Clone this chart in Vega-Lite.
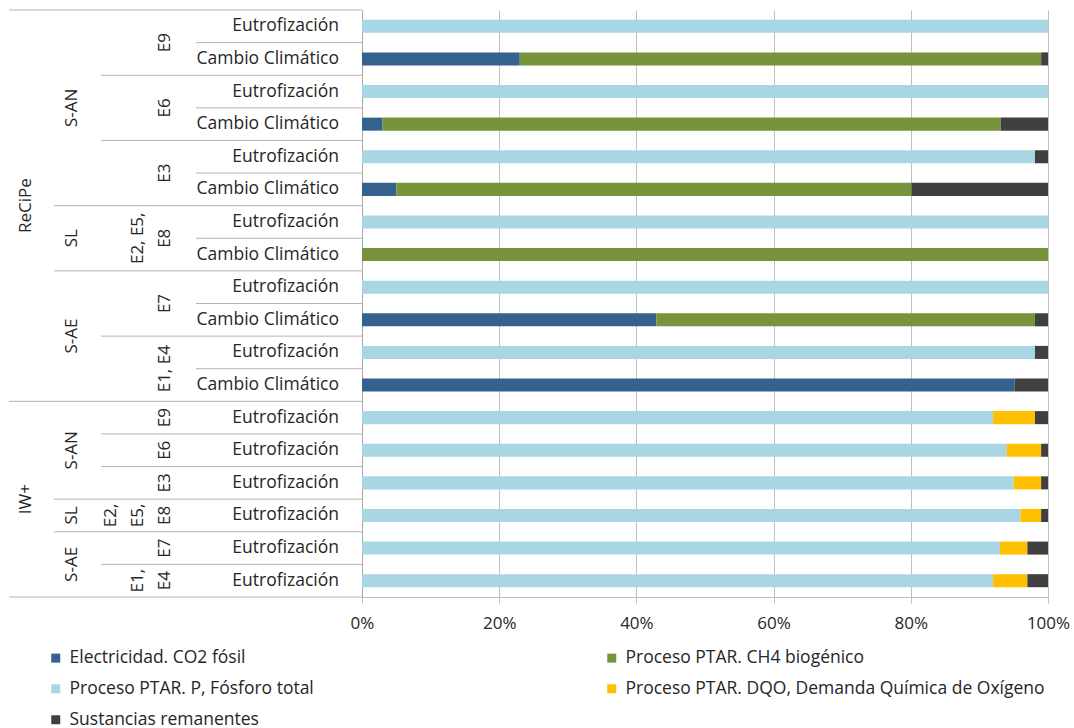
{
  "$schema": "https://vega.github.io/schema/vega-lite/v6.json",
  "background": "white",
  "padding": {"left": 8, "top": 9, "right": 0, "bottom": 0},
  "bounds": "flush",
  "spacing": 0,
  "config": {
    "view": {"stroke": null},
    "font": "Open Sans",
    "text": {"font": "Open Sans", "fontSize": 16, "color": "#262626"},
    "rule": {"color": "#B4B4B4", "strokeWidth": 1}
  },
  "datasets": {
    "rows": [
      {"idx": 1, "method": "ReCiPe", "system": "S-AN", "scen": "E9", "cat": "Eutrofización"},
      {"idx": 2, "method": "ReCiPe", "system": "S-AN", "scen": "E9", "cat": "Cambio Climático"},
      {"idx": 3, "method": "ReCiPe", "system": "S-AN", "scen": "E6", "cat": "Eutrofización"},
      {"idx": 4, "method": "ReCiPe", "system": "S-AN", "scen": "E6", "cat": "Cambio Climático"},
      {"idx": 5, "method": "ReCiPe", "system": "S-AN", "scen": "E3", "cat": "Eutrofización"},
      {"idx": 6, "method": "ReCiPe", "system": "S-AN", "scen": "E3", "cat": "Cambio Climático"},
      {"idx": 7, "method": "ReCiPe", "system": "SL", "scen": "E2, E5,\nE8", "cat": "Eutrofización"},
      {"idx": 8, "method": "ReCiPe", "system": "SL", "scen": "E2, E5,\nE8", "cat": "Cambio Climático"},
      {"idx": 9, "method": "ReCiPe", "system": "S-AE", "scen": "E7", "cat": "Eutrofización"},
      {"idx": 10, "method": "ReCiPe", "system": "S-AE", "scen": "E7", "cat": "Cambio Climático"},
      {"idx": 11, "method": "ReCiPe", "system": "S-AE", "scen": "E1, E4", "cat": "Eutrofización"},
      {"idx": 12, "method": "ReCiPe", "system": "S-AE", "scen": "E1, E4", "cat": "Cambio Climático"},
      {"idx": 13, "method": "IW+", "system": "S-AN", "scen": "E9", "cat": "Eutrofización"},
      {"idx": 14, "method": "IW+", "system": "S-AN", "scen": "E6", "cat": "Eutrofización"},
      {"idx": 15, "method": "IW+", "system": "S-AN", "scen": "E3", "cat": "Eutrofización"},
      {"idx": 16, "method": "IW+", "system": "SL", "scen": "E2,\nE5,\nE8", "cat": "Eutrofización"},
      {"idx": 17, "method": "IW+", "system": "S-AE", "scen": "E7", "cat": "Eutrofización"},
      {"idx": 18, "method": "IW+", "system": "S-AE", "scen": "E1,\nE4", "cat": "Eutrofización"}
    ],
    "bars": [
      {"idx": 1, "serie": "Proceso PTAR. P, Fósforo  total", "s": 3, "value": 100},
      {"idx": 2, "serie": "Electricidad. CO2 fósil", "s": 1, "value": 23},
      {"idx": 2, "serie": "Proceso PTAR. CH4 biogénico", "s": 2, "value": 76},
      {"idx": 2, "serie": "Sustancias remanentes", "s": 5, "value": 1},
      {"idx": 3, "serie": "Proceso PTAR. P, Fósforo  total", "s": 3, "value": 100},
      {"idx": 4, "serie": "Electricidad. CO2 fósil", "s": 1, "value": 3},
      {"idx": 4, "serie": "Proceso PTAR. CH4 biogénico", "s": 2, "value": 90.1},
      {"idx": 4, "serie": "Sustancias remanentes", "s": 5, "value": 6.9},
      {"idx": 5, "serie": "Proceso PTAR. P, Fósforo  total", "s": 3, "value": 98.1},
      {"idx": 5, "serie": "Sustancias remanentes", "s": 5, "value": 1.9},
      {"idx": 6, "serie": "Electricidad. CO2 fósil", "s": 1, "value": 5},
      {"idx": 6, "serie": "Proceso PTAR. CH4 biogénico", "s": 2, "value": 75.1},
      {"idx": 6, "serie": "Sustancias remanentes", "s": 5, "value": 19.9},
      {"idx": 7, "serie": "Proceso PTAR. P, Fósforo  total", "s": 3, "value": 100},
      {"idx": 8, "serie": "Proceso PTAR. CH4 biogénico", "s": 2, "value": 100},
      {"idx": 9, "serie": "Proceso PTAR. P, Fósforo  total", "s": 3, "value": 100},
      {"idx": 10, "serie": "Electricidad. CO2 fósil", "s": 1, "value": 42.9},
      {"idx": 10, "serie": "Proceso PTAR. CH4 biogénico", "s": 2, "value": 55.2},
      {"idx": 10, "serie": "Sustancias remanentes", "s": 5, "value": 1.9},
      {"idx": 11, "serie": "Proceso PTAR. P, Fósforo  total", "s": 3, "value": 98.1},
      {"idx": 11, "serie": "Sustancias remanentes", "s": 5, "value": 1.9},
      {"idx": 12, "serie": "Electricidad. CO2 fósil", "s": 1, "value": 95.1},
      {"idx": 12, "serie": "Sustancias remanentes", "s": 5, "value": 4.9},
      {"idx": 13, "serie": "Proceso PTAR. P, Fósforo  total", "s": 3, "value": 92},
      {"idx": 13, "serie": "Proceso PTAR. DQO, Demanda Química de Oxígeno", "s": 4, "value": 6.1},
      {"idx": 13, "serie": "Sustancias remanentes", "s": 5, "value": 1.9},
      {"idx": 14, "serie": "Proceso PTAR. P, Fósforo  total", "s": 3, "value": 94},
      {"idx": 14, "serie": "Proceso PTAR. DQO, Demanda Química de Oxígeno", "s": 4, "value": 5},
      {"idx": 14, "serie": "Sustancias remanentes", "s": 5, "value": 1},
      {"idx": 15, "serie": "Proceso PTAR. P, Fósforo  total", "s": 3, "value": 95},
      {"idx": 15, "serie": "Proceso PTAR. DQO, Demanda Química de Oxígeno", "s": 4, "value": 4},
      {"idx": 15, "serie": "Sustancias remanentes", "s": 5, "value": 1},
      {"idx": 16, "serie": "Proceso PTAR. P, Fósforo  total", "s": 3, "value": 96},
      {"idx": 16, "serie": "Proceso PTAR. DQO, Demanda Química de Oxígeno", "s": 4, "value": 3},
      {"idx": 16, "serie": "Sustancias remanentes", "s": 5, "value": 1},
      {"idx": 17, "serie": "Proceso PTAR. P, Fósforo  total", "s": 3, "value": 93},
      {"idx": 17, "serie": "Proceso PTAR. DQO, Demanda Química de Oxígeno", "s": 4, "value": 4},
      {"idx": 17, "serie": "Sustancias remanentes", "s": 5, "value": 3},
      {"idx": 18, "serie": "Proceso PTAR. P, Fósforo  total", "s": 3, "value": 92},
      {"idx": 18, "serie": "Proceso PTAR. DQO, Demanda Química de Oxígeno", "s": 4, "value": 5},
      {"idx": 18, "serie": "Sustancias remanentes", "s": 5, "value": 3}
    ]
  },
  "hconcat": [
    {
      "width": 45, "height": 587,
      "data": {"name": "rows"},
      "layer": [
        {
          "transform": [{"aggregate": [{"op": "max", "field": "idx", "as": "e"}], "groupby": ["method"]}],
          "mark": "rule",
          "encoding": {"y": {"field": "e", "type": "ordinal", "bandPosition": 1, "scale": {"type": "band", "domain": [1,2,3,4,5,6,7,8,9,10,11,12,13,14,15,16,17,18], "paddingInner": 0, "paddingOuter": 0}, "axis": null}}
        },
        {
          "transform": [{"aggregate": [{"op": "min", "field": "idx", "as": "e"}]}],
          "mark": "rule",
          "encoding": {"y": {"field": "e", "type": "ordinal", "bandPosition": 0, "scale": {"type": "band", "domain": [1,2,3,4,5,6,7,8,9,10,11,12,13,14,15,16,17,18], "paddingInner": 0, "paddingOuter": 0}, "axis": null}}
        },
        {
          "transform": [{"aggregate": [{"op": "mean", "field": "idx", "as": "m"}], "groupby": ["method"]}],
          "mark": {"type": "text", "angle": 270, "baseline": "middle", "align": "center", "dy": -6, "fontSize": 17},
          "encoding": {
            "y": {"field": "m", "type": "quantitative", "scale": {"domain": [0.5, 18.5], "reverse": true, "nice": false, "zero": false}, "axis": null},
            "text": {"field": "method"}
          }
        }
      ],
      "resolve": {"scale": {"y": "independent"}}
    },
    {
      "width": 47, "height": 587,
      "data": {"name": "rows"},
      "layer": [
        {
          "transform": [{"aggregate": [{"op": "max", "field": "idx", "as": "e"}], "groupby": ["method", "system"]}],
          "mark": "rule",
          "encoding": {"y": {"field": "e", "type": "ordinal", "bandPosition": 1, "scale": {"type": "band", "domain": [1,2,3,4,5,6,7,8,9,10,11,12,13,14,15,16,17,18], "paddingInner": 0, "paddingOuter": 0}, "axis": null}}
        },
        {
          "transform": [{"aggregate": [{"op": "min", "field": "idx", "as": "e"}]}],
          "mark": "rule",
          "encoding": {"y": {"field": "e", "type": "ordinal", "bandPosition": 0, "scale": {"type": "band", "domain": [1,2,3,4,5,6,7,8,9,10,11,12,13,14,15,16,17,18], "paddingInner": 0, "paddingOuter": 0}, "axis": null}}
        },
        {
          "transform": [{"aggregate": [{"op": "mean", "field": "idx", "as": "m"}], "groupby": ["method", "system"]}],
          "mark": {"type": "text", "angle": 270, "baseline": "middle", "align": "center", "dy": -6, "fontSize": 17},
          "encoding": {
            "y": {"field": "m", "type": "quantitative", "scale": {"domain": [0.5, 18.5], "reverse": true, "nice": false, "zero": false}, "axis": null},
            "text": {"field": "system"}
          }
        }
      ],
      "resolve": {"scale": {"y": "independent"}}
    },
    {
      "width": 95, "height": 587,
      "data": {"name": "rows"},
      "layer": [
        {
          "transform": [{"aggregate": [{"op": "max", "field": "idx", "as": "e"}], "groupby": ["method", "system", "scen"]}],
          "mark": "rule",
          "encoding": {"y": {"field": "e", "type": "ordinal", "bandPosition": 1, "scale": {"type": "band", "domain": [1,2,3,4,5,6,7,8,9,10,11,12,13,14,15,16,17,18], "paddingInner": 0, "paddingOuter": 0}, "axis": null}}
        },
        {
          "transform": [{"aggregate": [{"op": "min", "field": "idx", "as": "e"}]}],
          "mark": "rule",
          "encoding": {"y": {"field": "e", "type": "ordinal", "bandPosition": 0, "scale": {"type": "band", "domain": [1,2,3,4,5,6,7,8,9,10,11,12,13,14,15,16,17,18], "paddingInner": 0, "paddingOuter": 0}, "axis": null}}
        },
        {
          "transform": [
            {"aggregate": [{"op": "mean", "field": "idx", "as": "m"}], "groupby": ["method", "system", "scen"]},
            {"calculate": "join(reverse(split(datum.scen, '\\n')), '\\n')", "as": "lines"}
          ],
          "mark": {"type": "text", "angle": 270, "baseline": "bottom", "align": "center", "dy": 25, "lineBreak": "\n", "lineHeight": -27, "fontSize": 17},
          "encoding": {
            "y": {"field": "m", "type": "quantitative", "scale": {"domain": [0.5, 18.5], "reverse": true, "nice": false, "zero": false}, "axis": null},
            "text": {"field": "lines"}
          }
        }
      ],
      "resolve": {"scale": {"y": "independent"}}
    },
    {
      "width": 166, "height": 587,
      "data": {"name": "rows"},
      "layer": [
        {
          "mark": "rule",
          "encoding": {"y": {"field": "idx", "type": "ordinal", "bandPosition": 1, "scale": {"type": "band", "paddingInner": 0, "paddingOuter": 0}, "axis": null}}
        },
        {
          "transform": [{"filter": "datum.idx == 1"}],
          "mark": "rule",
          "encoding": {"y": {"field": "idx", "type": "ordinal", "bandPosition": 0, "scale": {"type": "band", "domain": [1,2,3,4,5,6,7,8,9,10,11,12,13,14,15,16,17,18], "paddingInner": 0, "paddingOuter": 0}, "axis": null}}
        },
        {
          "mark": {"type": "text", "align": "right", "baseline": "middle", "dx": 60, "fontSize": 17.5},
          "encoding": {
            "y": {"field": "idx", "type": "ordinal", "scale": {"type": "band", "paddingInner": 0, "paddingOuter": 0}, "axis": null},
            "text": {"field": "cat"}
          }
        }
      ],
      "resolve": {"scale": {"y": "independent"}}
    },
    {
      "width": 686, "height": 587,
      "data": {"name": "bars"},
      "mark": {"type": "bar"},
      "encoding": {
        "y": {"field": "idx", "type": "ordinal", "scale": {"paddingInner": 0.6, "paddingOuter": 0.3}, "axis": {"labels": false, "ticks": false, "title": null, "domainColor": "#A6A6A6", "domainWidth": 1}},
        "x": {
          "field": "value", "type": "quantitative", "stack": "normalize",
          "scale": {"domain": [0, 1]},
          "axis": {"values": [0, 0.2, 0.4, 0.6, 0.8, 1], "format": ".0%", "grid": true, "gridColor": "#BFBFBF", "tickColor": "#BFBFBF", "tickSize": 6, "domainColor": "#BFBFBF", "labelFontSize": 17, "labelFont": "Open Sans", "labelColor": "#262626", "labelPadding": 12, "labelFlush": false, "labelOverlap": false, "title": null}
        },
        "color": {
          "field": "serie", "type": "nominal",
          "scale": {
            "domain": ["Electricidad. CO2 fósil", "Proceso PTAR. CH4 biogénico", "Proceso PTAR. P, Fósforo  total", "Proceso PTAR. DQO, Demanda Química de Oxígeno", "Sustancias remanentes"],
            "range": ["#35618F", "#77933C", "#A9D6E3", "#FFC000", "#404040"]
          },
          "legend": {
            "orient": "none", "legendX": 38, "legendY": 639, "columns": 2, "direction": "horizontal",
            "title": null, "symbolType": "square", "symbolSize": 81, "symbolStrokeWidth": 0, "symbolOpacity": 1,
            "labelFont": "Open Sans", "labelFontSize": 17.5, "labelColor": "#262626", "labelLimit": 600, "labelOffset": 5,
            "columnPadding": 284, "rowPadding": 12
          }
        },
        "order": {"field": "s", "type": "quantitative"}
      }
    }
  ]
}
